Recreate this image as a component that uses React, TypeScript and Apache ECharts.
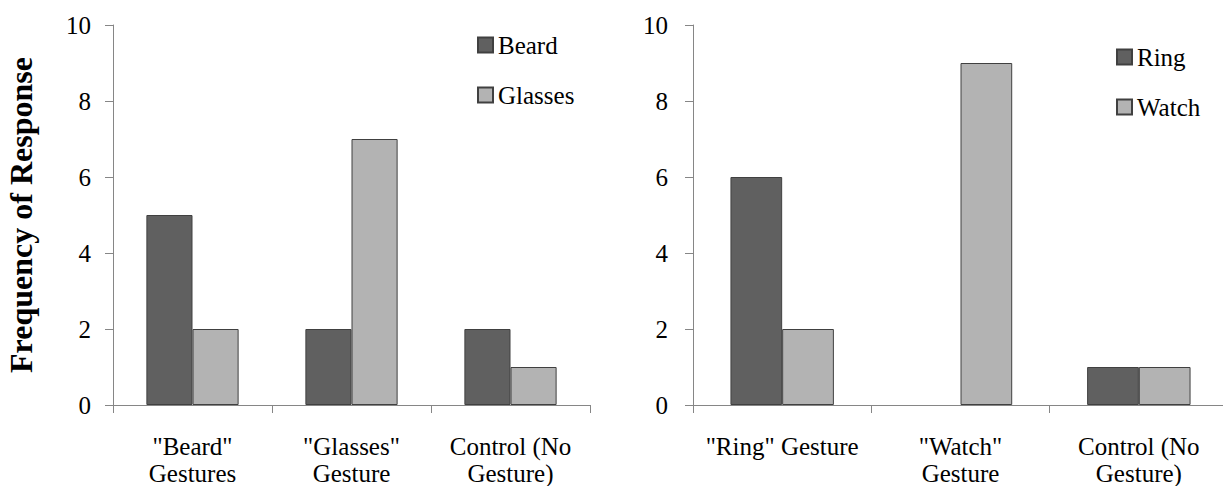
import React, { useEffect, useRef } from "react";
import * as echarts from "echarts";

const leftCategories = ['"Beard"\nGestures', '"Glasses"\nGesture', "Control (No\nGesture)"];
const beardValues = [5, 2, 2];
const glassesValues = [2, 7, 1];

const rightCategories = ['"Ring" Gesture', '"Watch"\nGesture', "Control (No\nGesture)"];
const ringValues = [6, 0, 1];
const watchValues = [2, 9, 1];

const yTicks = { min: 0, max: 10, interval: 2 };

const FONT = "Liberation Serif";
const DARK = "#606060";
const LIGHT = "#b3b3b3";
const BORDER = "#404040";
const AXIS = "#868686";

function toData(vals: number[]) {
  return vals.map((v) => (v === 0 ? { value: v, itemStyle: { borderWidth: 0 } } : v));
}

export default function App() {
  const ref = useRef<HTMLDivElement>(null);
  useEffect(() => {
    if (!ref.current) return;
    const chart = echarts.init(ref.current, undefined, { renderer: "svg" });
    const xAxisCommon = {
      type: "category" as const,
      axisLine: { show: true, lineStyle: { color: AXIS, width: 1 } },
      axisTick: { show: true, length: 8, lineStyle: { color: AXIS } },
      axisLabel: { color: "#000", fontFamily: FONT, fontSize: 25, lineHeight: 27, margin: 28, interval: 0 },
    };
    const yAxisCommon = {
      type: "value" as const,
      min: yTicks.min,
      max: yTicks.max,
      interval: yTicks.interval,
      axisLine: { show: true, lineStyle: { color: AXIS, width: 1 } },
      axisTick: { show: true, length: 8, lineStyle: { color: AXIS } },
      splitLine: { show: false },
      axisLabel: { color: "#000", fontFamily: FONT, fontSize: 25, margin: 22 },
    };
    const barCommon = {
      type: "bar" as const,
      barGap: "0%",
      barCategoryGap: "42%",
    };
    const legendCommon = {
      orient: "vertical" as const,
      padding: 0,
      itemWidth: 15,
      itemHeight: 15,
      itemGap: 22,
      icon: "rect",
      textStyle: { fontFamily: FONT, fontSize: 25, lineHeight: 28, color: "#000" },
    };
    chart.setOption({
      animation: false,
      backgroundColor: "#fff",
      textStyle: { fontFamily: FONT },
      grid: [
        { left: 113, top: 25, width: 477, height: 380, containLabel: false, outerBoundsMode: "none" },
        { left: 693, top: 25, width: 535, height: 380, containLabel: false, outerBoundsMode: "none" },
      ],
      legend: [
        { ...legendCommon, data: ["Beard", "Glasses"], left: 477, top: 31 },
        { ...legendCommon, data: ["Ring", "Watch"], left: 1116, top: 43 },
      ],
      xAxis: [
        { ...xAxisCommon, gridIndex: 0, data: leftCategories },
        { ...xAxisCommon, gridIndex: 1, data: rightCategories },
      ],
      yAxis: [
        {
          ...yAxisCommon,
          gridIndex: 0,
          name: "Frequency of Response",
          nameLocation: "middle",
          nameGap: 76,
          nameRotate: 90,
          nameTextStyle: { fontFamily: FONT, fontSize: 32, fontWeight: "bold", color: "#000" },
        },
        { ...yAxisCommon, gridIndex: 1, axisLabel: { ...yAxisCommon.axisLabel, margin: 25 } },
      ],
      series: [
        {
          ...barCommon,
          name: "Beard",
          xAxisIndex: 0,
          yAxisIndex: 0,
          data: toData(beardValues),
          itemStyle: { color: DARK, borderColor: BORDER, borderWidth: 1 },
        },
        {
          ...barCommon,
          name: "Glasses",
          xAxisIndex: 0,
          yAxisIndex: 0,
          data: toData(glassesValues),
          itemStyle: { color: LIGHT, borderColor: BORDER, borderWidth: 1 },
        },
        {
          ...barCommon,
          name: "Ring",
          xAxisIndex: 1,
          yAxisIndex: 1,
          data: toData(ringValues),
          itemStyle: { color: DARK, borderColor: BORDER, borderWidth: 1 },
        },
        {
          ...barCommon,
          name: "Watch",
          xAxisIndex: 1,
          yAxisIndex: 1,
          data: toData(watchValues),
          itemStyle: { color: LIGHT, borderColor: BORDER, borderWidth: 1 },
        },
      ],
    });
    return () => chart.dispose();
  }, []);
  return (
    <div
      ref={ref}
      style={{ position: "fixed", left: 0, top: 0, width: 1223, height: 486, background: "#fff" }}
    />
  );
}
